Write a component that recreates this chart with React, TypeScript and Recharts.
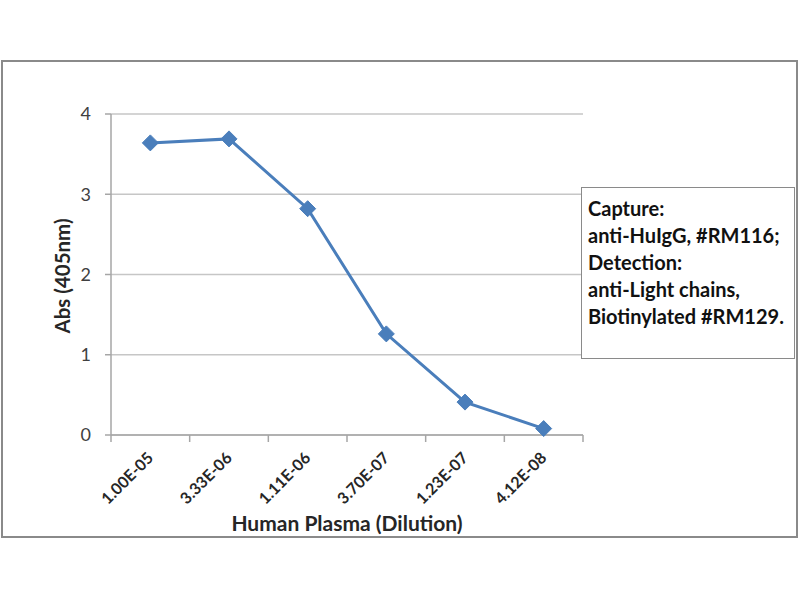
import React from 'react';
import { LineChart, Line, XAxis, YAxis, CartesianGrid } from 'recharts';

const categories = ['1.00E-05', '3.33E-06', '1.11E-06', '3.70E-07', '1.23E-07', '4.12E-08'];
const absValues = [3.64, 3.69, 2.82, 1.26, 0.41, 0.08];
const yTicks = [0, 1, 2, 3, 4];
const legendLines = ['Capture:', 'anti-HuIgG, #RM116;', 'Detection:', 'anti-Light chains,', 'Biotinylated #RM129.'];
const xTitle = 'Human Plasma (Dilution)';
const yTitle = 'Abs (405nm)';

const data = categories.map((c, i) => ({ pos: i + 0.5, label: c, abs: absValues[i] }));
const xTicks: number[] = [];
for (let i = 0; i <= categories.length * 2; i++) xTicks.push(i / 2);

const FONT = 'Lato, "Open Sans", sans-serif';
const LINE_COLOR = '#4a7ebb';

const XTick = (props: any) => {
  const { x, y, payload } = props;
  const v = payload.value;
  if (Number.isInteger(v)) {
    return <line x1={x} y1={y} x2={x} y2={y + 7} stroke="#a6a6a6" strokeWidth={1.5} />;
  }
  const label = categories[Math.floor(v)];
  const tx = x + 4;
  const ty = y + 24;
  return (
    <text
      x={tx}
      y={ty}
      transform={`rotate(-45 ${tx} ${ty})`}
      textAnchor="end"
      fontFamily={FONT}
      fontWeight="bold"
      fontSize={16}
      fill="#262626"
    >
      {label}
    </text>
  );
};

const Diamond = (props: any) => {
  const { cx, cy } = props;
  if (cx == null || cy == null) return null;
  const r = 8;
  return (
    <polygon
      points={`${cx},${cy - r} ${cx + r},${cy} ${cx},${cy + r} ${cx - r},${cy}`}
      fill={LINE_COLOR}
      stroke={LINE_COLOR}
      strokeWidth={1}
    />
  );
};

export default function App() {
  return (
    <div style={{ position: 'absolute', left: 0, top: 0, width: 800, height: 600, background: '#fff' }}>
      <div
        style={{
          position: 'absolute',
          left: 1,
          top: 60,
          width: 797,
          height: 478,
          border: '2px solid #8a8a8a',
          boxSizing: 'border-box',
        }}
      />
      <div style={{ position: 'absolute', left: 0, top: 0 }}>
        <LineChart width={800} height={600} data={data} margin={{ top: 114, right: 217, bottom: 75, left: 51 }}>
          <CartesianGrid vertical={false} stroke="#c6c6c6" strokeWidth={1.5} />
          <XAxis
            dataKey="pos"
            type="number"
            domain={[0, categories.length]}
            ticks={xTicks}
            interval={0}
            tick={<XTick />}
            tickLine={false}
            tickSize={0}
            tickMargin={0}
            axisLine={{ stroke: '#a6a6a6', strokeWidth: 1.5 }}
            height={90}
          />
          <YAxis
            domain={[0, 4]}
            ticks={yTicks}
            width={60}
            interval={0}
            tickSize={6}
            tickMargin={14}
            tickLine={{ stroke: '#a6a6a6', strokeWidth: 1.5 }}
            axisLine={{ stroke: '#a6a6a6', strokeWidth: 1.5 }}
            tick={{ fontFamily: FONT, fontSize: 18, fill: '#404040' }}
          />
          <Line
            dataKey="abs"
            stroke={LINE_COLOR}
            strokeWidth={3}
            dot={<Diamond />}
            activeDot={false}
            isAnimationActive={false}
          />
        </LineChart>
      </div>
      <svg style={{ position: 'absolute', left: 0, top: 0 }} width={800} height={600} pointerEvents="none">
        <text
          x={62}
          y={276}
          transform="rotate(-90 62 276)"
          textAnchor="middle"
          dominantBaseline="central"
          fontFamily={FONT}
          fontWeight="bold"
          fontSize={20.5}
          fill="#262626"
        >
          {yTitle}
        </text>
        <text
          x={347}
          y={522}
          textAnchor="middle"
          dominantBaseline="central"
          fontFamily={FONT}
          fontWeight="bold"
          fontSize={21}
          fill="#262626"
        >
          {xTitle}
        </text>
      </svg>
      <div
        style={{
          position: 'absolute',
          left: 581,
          top: 187,
          width: 214,
          height: 172,
          border: '1.5px solid #8a8a8a',
          boxSizing: 'border-box',
          background: '#fff',
          fontFamily: FONT,
          fontWeight: 'bold',
          fontSize: 20,
          color: '#111',
          paddingLeft: 6,
          paddingTop: 7,
          lineHeight: '27px',
        }}
      >
        {legendLines.map((l, i) => (
          <div key={i} style={{ whiteSpace: 'nowrap' }}>{l}</div>
        ))}
      </div>
    </div>
  );
}
